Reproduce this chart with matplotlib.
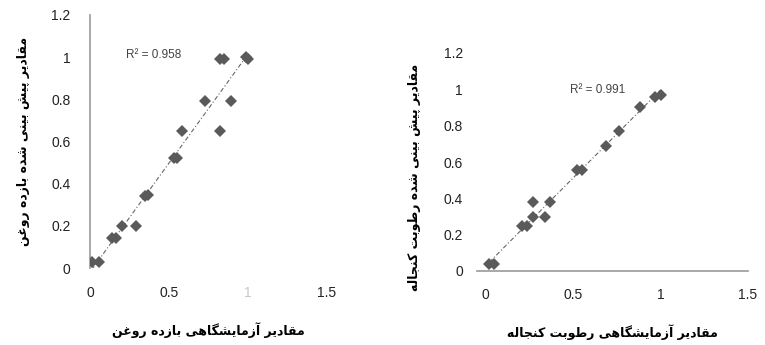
import numpy as np
import matplotlib
matplotlib.use("Agg")
import matplotlib.pyplot as plt

plt.rcParams["font.family"] = ["Liberation Sans", "DejaVu Sans"]

# left panel: oil
oil_lab = [0.01, 0.06, 0.14, 0.165, 0.20, 0.29, 0.35, 0.37, 0.53, 0.55,
           0.58, 0.73, 0.82, 0.82, 0.85, 0.89, 0.99, 1.00]
oil_pred = [0.03, 0.03, 0.14, 0.14, 0.20, 0.20, 0.34, 0.345, 0.52, 0.52,
            0.65, 0.79, 0.65, 0.99, 0.99, 0.79, 1.00, 0.99]
oil_r2 = "R² = 0.958"

# right panel: meal moisture
moist_lab = [0.02, 0.05, 0.21, 0.235, 0.27, 0.27, 0.34, 0.37, 0.52, 0.55,
             0.69, 0.76, 0.88, 0.97, 1.00]
moist_pred = [0.04, 0.04, 0.245, 0.245, 0.30, 0.38, 0.30, 0.38, 0.555, 0.555,
              0.69, 0.77, 0.905, 0.96, 0.97]
moist_r2 = "R² = 0.991"

xticks = [0, 0.5, 1, 1.5]
xticklabels = ["0", "0.5", "1", "1.5"]
yticks = [0, 0.2, 0.4, 0.6, 0.8, 1, 1.2]
yticklabels = ["0", "0.2", "0.4", "0.6", "0.8", "1", "1.2"]

oil_xlabel = "مقادیر آزمایشگاهی بازده روغن"
oil_ylabel = "مقادیر پیش بینی شده بازده روغن"
moist_xlabel = "مقادیر آزمایشگاهی رطوبت کنجاله"
moist_ylabel = "مقادیر پیش بینی شده رطوبت کنجاله"

# minimal arabic/persian shaping: (isolated, final, initial, medial)
FORMS = {
    "ا": (0xFE8D, 0xFE8E, None, None), "آ": (0xFE81, 0xFE82, None, None),
    "د": (0xFEA9, 0xFEAA, None, None), "ر": (0xFEAD, 0xFEAE, None, None),
    "ز": (0xFEAF, 0xFEB0, None, None), "و": (0xFEED, 0xFEEE, None, None),
    "ب": (0xFE8F, 0xFE90, 0xFE91, 0xFE92), "ت": (0xFE95, 0xFE96, 0xFE97, 0xFE98),
    "ج": (0xFE9D, 0xFE9E, 0xFE9F, 0xFEA0), "ش": (0xFEB5, 0xFEB6, 0xFEB7, 0xFEB8),
    "ط": (0xFEC1, 0xFEC2, 0xFEC3, 0xFEC4), "غ": (0xFECD, 0xFECE, 0xFECF, 0xFED0),
    "ق": (0xFED5, 0xFED6, 0xFED7, 0xFED8), "ل": (0xFEDD, 0xFEDE, 0xFEDF, 0xFEE0),
    "م": (0xFEE1, 0xFEE2, 0xFEE3, 0xFEE4), "ن": (0xFEE5, 0xFEE6, 0xFEE7, 0xFEE8),
    "ه": (0xFEE9, 0xFEEA, 0xFEEB, 0xFEEC), "ی": (0xFBFC, 0xFBFD, 0xFBFE, 0xFBFF),
    "پ": (0xFB56, 0xFB57, 0xFB58, 0xFB59), "گ": (0xFB92, 0xFB93, 0xFB94, 0xFB95),
    "ک": (0xFB8E, 0xFB8F, 0xFB90, 0xFB91),
}


def shape(text):
    out = []
    for i, c in enumerate(text):
        if c not in FORMS:
            out.append(c)
            continue
        iso, fin, ini, med = FORMS[c]
        prev = text[i - 1] if i > 0 else ""
        nxt = text[i + 1] if i + 1 < len(text) else ""
        join_prev = prev in FORMS and FORMS[prev][2] is not None
        join_next = ini is not None and nxt in FORMS
        if join_prev and join_next:
            code = med
        elif join_prev:
            code = fin
        elif join_next:
            code = ini
        else:
            code = iso
        out.append(chr(code))
    return "".join(out)[::-1]


fa = ["DejaVu Sans"]

fig = plt.figure(figsize=(7.65, 3.45), dpi=100)
W, H = 765, 345


def add_axes(x0, x1, y0, y1):
    return fig.add_axes([x0 / W, 1 - y0 / H, (x1 - x0) / W, (y0 - y1) / H])


def panel(ax, x, y, r2, r2pos):
    ax.plot(x, y, "D", color="#5a5a5a", markersize=6.5, markeredgewidth=0, zorder=3)
    k, b = np.polyfit(x, y, 1)
    xs = np.array([min(x), max(x)])
    ax.plot(xs, k * xs + b, color="#666666", lw=0.8, ls=(0, (4, 2, 1, 2)), zorder=2)
    ax.text(r2pos[0], r2pos[1], r2, fontsize=8.5, color="#444444", va="center")
    ax.set_ylim(0, 1.2)
    ax.set_yticks(yticks)
    ax.set_yticklabels(yticklabels)
    ax.set_xticks(xticks)
    ax.set_xticklabels(xticklabels)
    for s in ["top", "right"]:
        ax.spines[s].set_visible(False)
    ax.tick_params(labelsize=10, colors="#222222", length=0)


# left panel
ax1 = add_axes(90, 327, 268, 15)
panel(ax1, oil_lab, oil_pred, oil_r2, (0.23, 1.01))
ax1.set_xlim(0, 1.5)
ax1.spines["bottom"].set_visible(False)
ax1.spines["left"].set_color("#9a9a9a")
ax1.spines["left"].set_linewidth(1.2)
ax1.tick_params(axis="y", pad=14)
ax1.tick_params(axis="x", pad=13)
ax1.get_xticklabels()[2].set_color("#c8c8c8")
ax1.set_xlabel(shape(oil_xlabel), family=fa, fontsize=9, fontweight="bold", labelpad=16)
ax1.set_ylabel(shape(oil_ylabel), family=fa, fontsize=9, fontweight="bold")
ax1.yaxis.set_label_coords(-0.253, 0.5)

# right panel
ax2 = add_axes(477, 748, 271, 53)
panel(ax2, moist_lab, moist_pred, moist_r2, (0.48, 0.995))
ax2.set_xlim(-0.05, 1.5)
ax2.spines["left"].set_visible(False)
ax2.spines["bottom"].set_color("#9a9a9a")
ax2.spines["bottom"].set_linewidth(1.2)
ax2.set_xticks([0.5], minor=True)
ax2.tick_params(axis="x", which="minor", length=4, color="#9a9a9a")
ax2.tick_params(axis="y", pad=10)
ax2.tick_params(axis="x", pad=12)
ax2.set_xlabel(shape(moist_xlabel), family=fa, fontsize=9, fontweight="bold", labelpad=16)
ax2.set_ylabel(shape(moist_ylabel), family=fa, fontsize=9, fontweight="bold")
ax2.yaxis.set_label_coords(-0.206, 0.43)

fig.savefig("out.png", dpi=100)
